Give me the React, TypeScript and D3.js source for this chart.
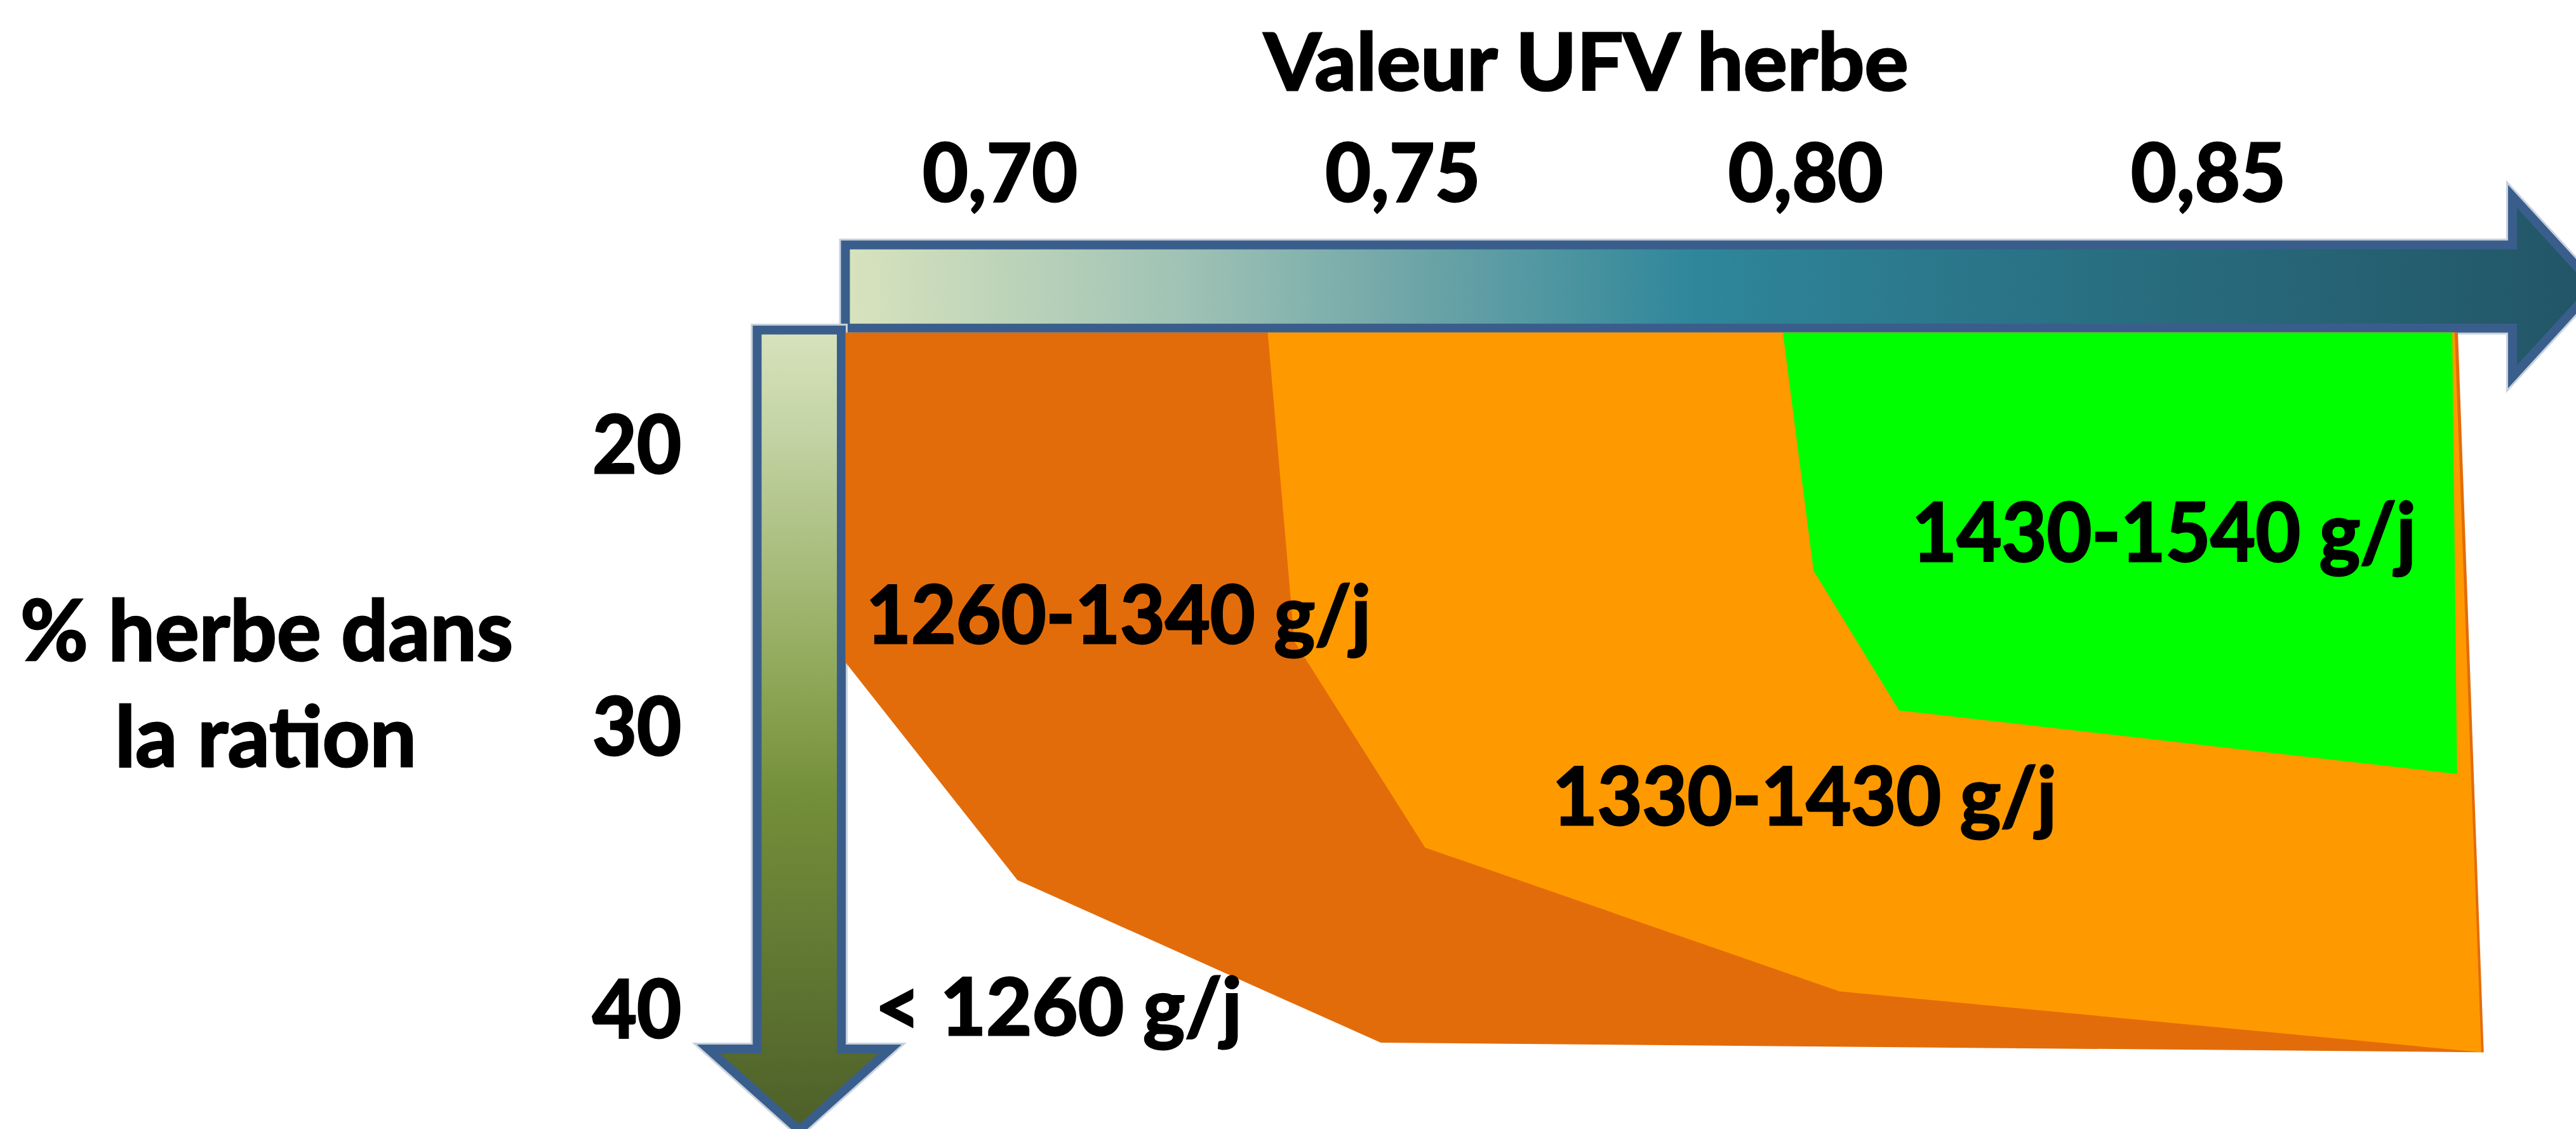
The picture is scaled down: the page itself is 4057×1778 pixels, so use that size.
import * as d3 from 'd3'

// ---- data ----
const UFV_TICKS = [0.7, 0.75, 0.8, 0.85]
const PCT_TICKS = [20, 30, 40]
const X_TITLE = 'Valeur UFV herbe'
const Y_TITLE = ['% herbe dans', 'la ration']

const ZONE_NAMES = ['< 1260 g/j', '1260-1340 g/j', '1330-1430 g/j', '1430-1540 g/j']
// polygons as [UFV, % herbe]
const ZONE_1260_1340: [number, number][] = [
  [0.6803, 16.0], [0.88, 16.0], [0.8832, 41.5], [0.7466, 41.16], [0.7016, 35.4], [0.6803, 27.68],
]
const ZONE_1330_1430: [number, number][] = [
  [0.7326, 16.0], [0.7359, 26.94], [0.7521, 34.25], [0.8034, 39.34], [0.8829, 41.5], [0.8796, 16.0],
]
const ZONE_1430_1540: [number, number][] = [
  [0.7964, 16.0], [0.8002, 24.44], [0.8108, 29.39], [0.8799, 31.64], [0.8793, 16.0],
]

// ---- layout ----
const W = 4057
const H = 1778
const X_ORIGIN = 0.6803
const Y_ORIGIN = 16.0
const FONT = "Lato, 'Open Sans', 'DejaVu Sans', sans-serif"
const BORDER = '#3a5e8c'
const HALO = '#c8d1dd'
const ZONE_COLORS = ['#ffffff', '#e36c0a', '#ff9900', '#00ff00']

// label boxes: left, baseline, ink width, font size
const ZONE_LABELS = [
  { x: 1381, y: 1630, w: 572, size: 124 },
  { x: 1367, y: 1013, w: 789, size: 126 },
  { x: 2448, y: 1299, w: 788, size: 126 },
  { x: 3014, y: 884, w: 788, size: 128 },
]

const x = d3.scaleLinear().domain([0.7, 0.85]).range([1575, 3478])
const y = d3.scaleLinear().domain([20, 40]).range([701.5, 1590.5])

const fmtUfv = (v: number) => v.toFixed(2).replace('.', ',')

// polygon vertices were read against this mapping
const xr = d3.scaleLinear().domain([0.7, 0.85]).range([1582, 3489.5])
const polyLine = d3
  .line<[number, number]>()
  .x((d) => xr(d[0]))
  .y((d) => y(d[1]))

function Label({ text, left, baseline, width, size }: { text: string; left: number; baseline: number; width: number; size: number }) {
  return (
    <text
      x={left - 3}
      y={baseline}
      textLength={width + 6}
      lengthAdjust="spacingAndGlyphs"
      fontFamily={FONT}
      fontWeight={700}
      fontSize={size}
      fill="#000"
      stroke="#000"
      strokeWidth={3}
    >
      {text}
    </text>
  )
}

export default function App() {
  const ox = xr(X_ORIGIN)
  const oy = y(Y_ORIGIN)

  // horizontal arrow (stroke centre line)
  const hBottom = oy - 7
  const hTop = hBottom - 131
  const hMid = (hTop + hBottom) / 2
  const hLeft = ox
  const hHeadBase = 3957
  const hHeadHalf = 142
  const hTip = hHeadBase + 130
  const hPath = d3.path()
  hPath.moveTo(hLeft, hTop)
  hPath.lineTo(hHeadBase, hTop)
  hPath.lineTo(hHeadBase, hMid - hHeadHalf)
  hPath.lineTo(hTip, hMid)
  hPath.lineTo(hHeadBase, hMid + hHeadHalf)
  hPath.lineTo(hHeadBase, hBottom)
  hPath.lineTo(hLeft, hBottom)
  hPath.closePath()

  // vertical arrow
  const vRight = ox - 6.5
  const vLeft = vRight - 132.5
  const vMid = (vLeft + vRight) / 2
  const vTop = oy - 4
  const vHeadBase = 1652
  const vHeadHalf = 143
  const vTip = vHeadBase + 128
  const vPath = d3.path()
  vPath.moveTo(vLeft, vTop)
  vPath.lineTo(vRight, vTop)
  vPath.lineTo(vRight, vHeadBase)
  vPath.lineTo(vMid + vHeadHalf, vHeadBase)
  vPath.lineTo(vMid, vTip)
  vPath.lineTo(vMid - vHeadHalf, vHeadBase)
  vPath.lineTo(vLeft, vHeadBase)
  vPath.closePath()

  const zones = [null, ZONE_1260_1340, ZONE_1330_1430, ZONE_1430_1540]

  return (
    <svg width={W} height={H} style={{ position: 'absolute', left: 0, top: 0, background: '#fff' }}>
      <defs>
        <linearGradient id="hGrad" gradientUnits="userSpaceOnUse" x1={hLeft} y1={0} x2={hTip} y2={0}>
          <stop offset="0" stopColor="#d8e3bd" />
          <stop offset="0.19" stopColor="#a0c3b5" />
          <stop offset="0.33" stopColor="#6ca4a7" />
          <stop offset="0.485" stopColor="#2f869a" />
          <stop offset="0.67" stopColor="#2a7386" />
          <stop offset="1" stopColor="#225566" />
        </linearGradient>
        <linearGradient id="vGrad" gradientUnits="userSpaceOnUse" x1={0} y1={vTop} x2={0} y2={vTip}>
          <stop offset="0" stopColor="#d7e3bc" />
          <stop offset="0.13" stopColor="#c3d3a4" />
          <stop offset="0.4" stopColor="#95ad60" />
          <stop offset="0.58" stopColor="#748f3a" />
          <stop offset="0.85" stopColor="#5b7130" />
          <stop offset="1" stopColor="#4d5f28" />
        </linearGradient>
      </defs>

      {/* arrows */}
      <path d={hPath.toString()} fill="none" stroke={HALO} strokeWidth={20} strokeLinejoin="miter" />
      <path d={hPath.toString()} fill="url(#hGrad)" stroke={BORDER} strokeWidth={14} strokeLinejoin="miter" />
      <path d={vPath.toString()} fill="none" stroke={HALO} strokeWidth={20} strokeLinejoin="miter" />
      <path d={vPath.toString()} fill="url(#vGrad)" stroke={BORDER} strokeWidth={14} strokeLinejoin="miter" />

      {/* zones */}
      {zones.map((pts, i) =>
        pts ? <path key={ZONE_NAMES[i]} d={polyLine(pts) + 'Z'} fill={ZONE_COLORS[i]} /> : null,
      )}

      {/* zone labels */}
      {ZONE_NAMES.map((name, i) => (
        <Label
          key={name}
          text={name}
          left={ZONE_LABELS[i].x}
          baseline={ZONE_LABELS[i].y}
          width={ZONE_LABELS[i].w}
          size={ZONE_LABELS[i].size}
        />
      ))}

      {/* x title and ticks */}
      <Label text={X_TITLE} left={1993.5} baseline={141.7} width={1009} size={125} />
      {UFV_TICKS.map((v) => (
        <Label key={v} text={fmtUfv(v)} left={x(v) - 119} baseline={317} width={238} size={126} />
      ))}

      {/* y title and ticks */}
      <Label text={Y_TITLE[0]} left={35} baseline={1040} width={770} size={132} />
      <Label text={Y_TITLE[1]} left={184} baseline={1207} width={469} size={132} />
      {PCT_TICKS.map((v) => (
        <Label key={v} text={String(v)} left={1070 - 134} baseline={y(v) + 43} width={134} size={126} />
      ))}
    </svg>
  )
}
